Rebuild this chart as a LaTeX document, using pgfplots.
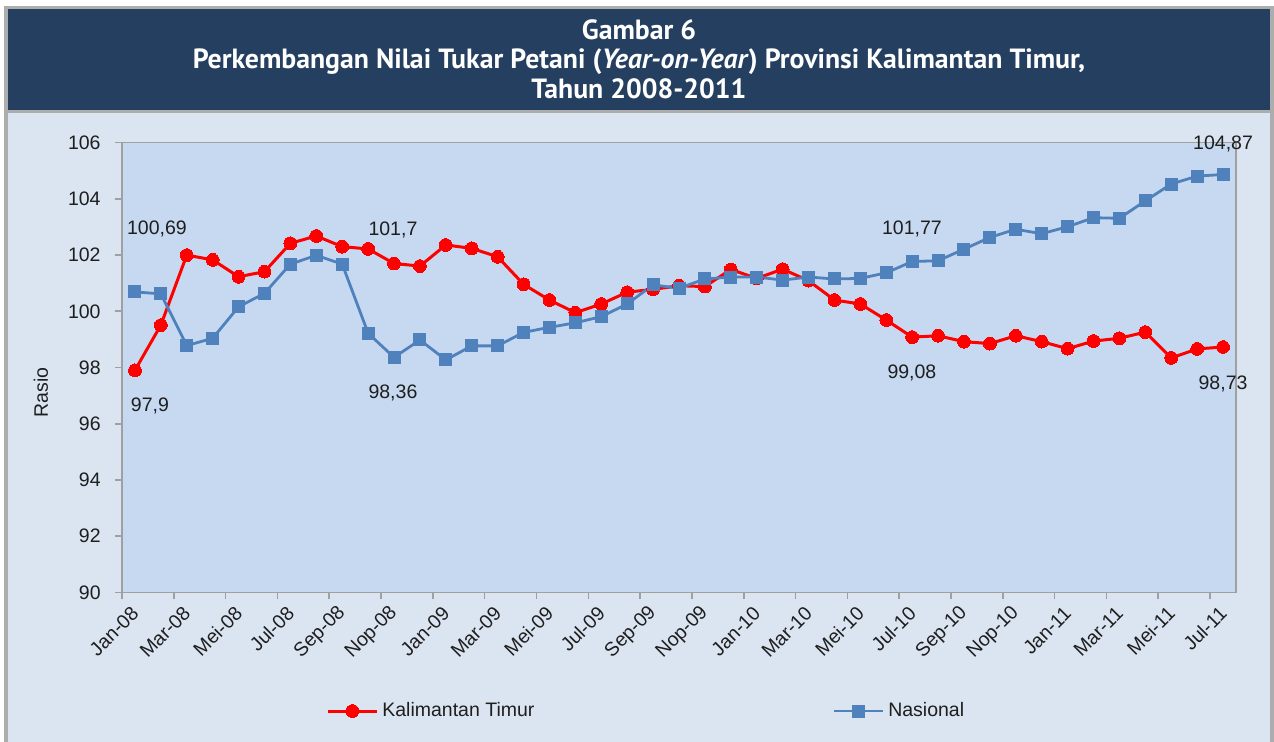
\documentclass[border=0pt]{standalone}
\usepackage{fontspec}
\setmainfont{Liberation Sans}
\newfontfamily\titlefont{PT Sans}
\usepackage{pgfplots}
\pgfplotsset{compat=1.18}
\definecolor{navy}{HTML}{243F60}
\definecolor{bodyblue}{HTML}{DBE5F1}
\definecolor{plotblue}{HTML}{C6D9F0}
\definecolor{framegray}{HTML}{ADADAD}
\definecolor{axisgray}{HTML}{A0A0A0}
\definecolor{serA}{HTML}{FF0000}
\definecolor{serB}{HTML}{4F81BD}
\definecolor{txt}{HTML}{1E1E1E}
\pgfplotstableread{
x y
0 97.90
1 99.51
2 102.00
3 101.83
4 101.23
5 101.41
6 102.42
7 102.68
8 102.30
9 102.22
10 101.70
11 101.61
12 102.36
13 102.24
14 101.94
15 100.96
16 100.40
17 99.95
18 100.26
19 100.68
20 100.78
21 100.91
22 100.88
23 101.49
24 101.17
25 101.50
26 101.09
27 100.40
28 100.26
29 99.69
30 99.08
31 99.13
32 98.92
33 98.85
34 99.13
35 98.92
36 98.67
37 98.94
38 99.04
39 99.26
40 98.34
41 98.66
42 98.73
}\kaltim
\pgfplotstableread{
x y
0 100.69
1 100.62
2 98.78
3 99.04
4 100.16
5 100.64
6 101.68
7 101.99
8 101.68
9 99.22
10 98.36
11 98.98
12 98.27
13 98.77
14 98.77
15 99.25
16 99.43
17 99.59
18 99.81
19 100.26
20 100.94
21 100.82
22 101.15
23 101.22
24 101.22
25 101.11
26 101.22
27 101.15
28 101.17
29 101.37
30 101.77
31 101.80
32 102.21
33 102.63
34 102.92
35 102.76
36 103.01
37 103.33
38 103.31
39 103.93
40 104.53
41 104.81
42 104.87
}\nasional
\pgfplotstableread{
x y lab
0.849 102.93 100,69
0.579 96.63 97,9
9.959 102.89 101,7
9.959 97.09 98,36
29.99 102.93 101,77
29.99 97.80 99,08
42.0 105.95 104,87
42.0 97.41 98,73
}\labels
\begin{document}
\fontsize{9.75}{11.7}\selectfont
\begin{tikzpicture}
\useasboundingbox (0,0) rectangle (637pt,-371pt);
\fill[white] (0,0) rectangle (637pt,-371pt);
\fill[framegray] (2pt,-3pt) rectangle (637pt,-371pt);
\fill[navy] (4pt,-4.5pt) rectangle (635pt,-55pt);
\fill[bodyblue] (4pt,-56.5pt) rectangle (635pt,-371pt);
\node[text=white, align=center, font=\titlefont\bfseries\fontsize{13.9}{14.75}\selectfont] at (319.5pt,-29.5pt)
 {Gambar 6\\Perkembangan Nilai Tukar Petani (\textit{Year-on-Year}) Provinsi Kalimantan Timur,\\Tahun 2008-2011};
\begin{axis}[
  at={(61pt,-296.15pt)}, anchor=south west,
  scale only axis, width=557pt, height=224.8pt,
  xmin=-0.5, xmax=42.5, ymin=90, ymax=106,
  axis background/.style={fill=plotblue},
  axis line style={draw=axisgray, line width=0.8pt},
  clip=false,
  tick align=outside,
  xtick pos=bottom, ytick pos=left,
  major tick length=3.5pt,
  tick style={draw=axisgray, line width=0.8pt},
  ytick={90,92,...,106},
  xtick={-0.5,1.5,...,41.5},
  xticklabels={},
  extra x ticks={0,2,...,42},
  extra x tick labels={Jan-08,Mar-08,Mei-08,Jul-08,Sep-08,Nop-08,Jan-09,Mar-09,Mei-09,Jul-09,Sep-09,Nop-09,Jan-10,Mar-10,Mei-10,Jul-10,Sep-10,Nop-10,Jan-11,Mar-11,Mei-11,Jul-11},
  extra x tick style={major tick length=0pt},
  xticklabel style={xshift=2.5pt, yshift=-6.5pt, rotate=45, anchor=east, text=txt},
  yticklabel style={text=txt, xshift=-3.75pt},
  /pgf/number format/assume math mode=true,
  ylabel={Rasio},
  y label style={at={(axis description cs:-0.0727,0.445)}, anchor=center, text=txt},
  legend columns=2,
  legend style={at={(axis description cs:0.1831,-0.264)}, anchor=west, draw=none, fill=none, inner sep=0pt,
    text=txt, /tikz/every even column/.append style={column sep=147pt}},
  legend image code/.code={\draw[#1,mark repeat=2,mark phase=2] plot coordinates {(0pt,0pt) (12.25pt,0pt) (24.5pt,0pt)};},
]
\addplot[serA, line width=1.5pt, mark=*, mark size=3.2pt, mark options={fill=serA, draw=serA, line width=0pt}] table[x=x,y=y] {\kaltim};
\addlegendentry{Kalimantan Timur}
\addplot[serB, line width=1.4pt, mark=square*, mark size=3pt, mark options={fill=serB, draw=serB, line width=0pt}] table[x=x,y=y] {\nasional};
\addlegendentry{Nasional}
\addplot[draw=none, forget plot, nodes near coords, point meta=explicit symbolic,
  nodes near coords align={anchor=center}, every node near coord/.append style={text=txt, anchor=center, inner sep=0pt}] table[x=x,y=y,meta=lab] {\labels};
\end{axis}
\end{tikzpicture}
\end{document}
